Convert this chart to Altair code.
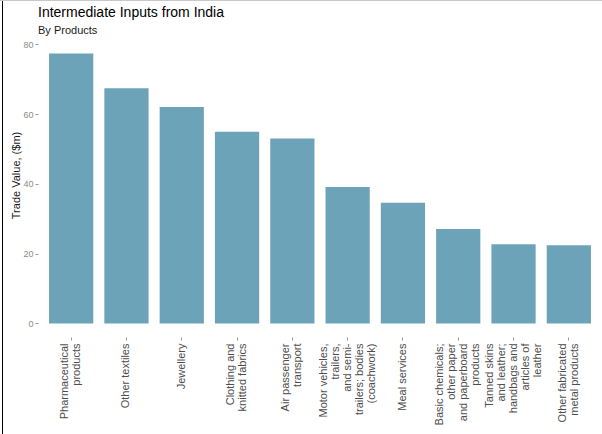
import altair as alt
import pandas as pd

# Products and trade values ($m)
products = [
    "Pharmaceutical\nproducts",
    "Other textiles",
    "Jewellery",
    "Clothing and\nknitted fabrics",
    "Air passenger\ntransport",
    "Motor vehicles,\ntrailers,\nand semi-\ntrailers; bodies\n(coachwork)",
    "Meal services",
    "Basic chemicals;\nother paper\nand paperboard\nproducts",
    "Tanned skins\nand leather;\nhandbags and\narticles of\nleather",
    "Other fabricated\nmetal products",
]
values = [77.3, 67.4, 62.0, 54.9, 53.0, 39.1, 34.6, 27.1, 22.7, 22.4]

title_text = "Intermediate Inputs from India"
subtitle_text = "By Products"

df = pd.DataFrame({"product": products, "value": values})

FONT = "Liberation Sans"
PLOT_W, PLOT_H = 564, 297
LEFT, TOP = 38, 40
LINE_H = 12

bars = alt.Chart(df).mark_bar(color="#6DA3B9").encode(
    x=alt.X(
        "product:N",
        sort=None,
        scale=alt.Scale(paddingInner=0.2, paddingOuter=0.2),
        axis=alt.Axis(
            title=None,
            labelAngle=-90,
            labelAlign="right",
            labelBaseline="middle",
            labelExpr="split(datum.label, '\\n')",
            # centre each wrapped label block on its tick
            labelOffset=alt.expr(
                f"-(length(split(datum.label, '\\n')) - 1) * {LINE_H / 2}"
            ),
            labelLineHeight=LINE_H,
            labelFontSize=11,
            labelColor="#4d4d4d",
            labelPadding=3,
            labelLimit=200,
            tickSize=3,
            tickColor="#999999",
            domain=False,
            grid=False,
        ),
    ),
    y=alt.Y(
        "value:Q",
        scale=alt.Scale(domain=[-3.87, 81.2], nice=False, zero=False),
        axis=alt.Axis(
            title="Trade Value, ($m)",
            values=[0, 20, 40, 60, 80],
            labelFontSize=9,
            labelColor="#8a8a8a",
            labelPadding=2,
            tickSize=3,
            tickColor="#999999",
            domain=False,
            grid=False,
            titleFontSize=11,
            titleFontWeight="normal",
            titleColor="#1a1a1a",
            titleAngle=-90,
            titleX=-22,
            titleY=135,
            titleAlign="center",
            titleBaseline="middle",
        ),
    ),
    y2=alt.datum(0),
)

# Title and subtitle, left-aligned with the plot area
title = alt.Chart(pd.DataFrame({"t": [title_text]})).mark_text(
    align="left", baseline="alphabetic", fontSize=14, font=FONT, color="#000000"
).encode(x=alt.value(0), y=alt.value(17 - TOP), text="t:N")
subtitle = alt.Chart(pd.DataFrame({"t": [subtitle_text]})).mark_text(
    align="left", baseline="alphabetic", fontSize=11, font=FONT, color="#1a1a1a"
).encode(x=alt.value(0), y=alt.value(34 - TOP), text="t:N")

# Frame lines along the left and top edges of the page
left_edge = alt.Chart(df).mark_rule(color="#000000", strokeWidth=1).encode(
    x=alt.value(2.5 - LEFT), y=alt.value(-TOP), y2=alt.value(434 - TOP)
)
top_edge = alt.Chart(df).mark_rule(color="#c8c8c8", strokeWidth=1).encode(
    x=alt.value(-LEFT), x2=alt.value(PLOT_W), y=alt.value(0.5 - TOP)
)

chart = (
    alt.layer(bars, title, subtitle, left_edge, top_edge)
    .properties(
        width=PLOT_W,
        height=PLOT_H,
        autosize=alt.AutoSizeParams(type="none"),
        padding={"left": LEFT, "top": TOP, "right": 0, "bottom": 434 - TOP - PLOT_H},
    )
    .configure(font=FONT, background="#ffffff")
    .configure_view(stroke=None)
)

chart.save("out.html", embed_options={"renderer": "svg", "actions": False})
